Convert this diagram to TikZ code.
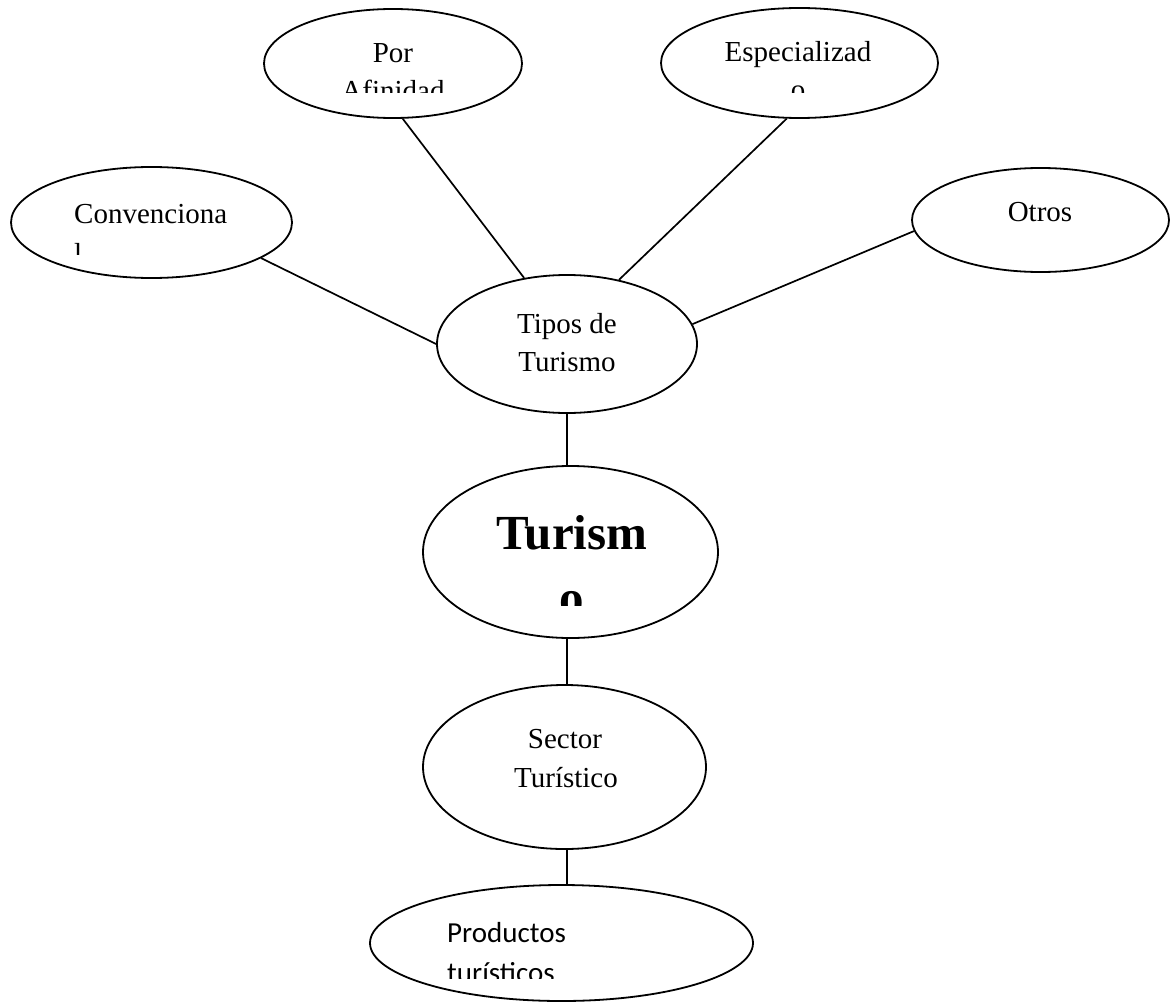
\documentclass[tikz,border=0pt]{standalone}
\usepackage{fontspec}
\setmainfont{Liberation Serif}
\newfontfamily\bodysans{Carlito}
\usetikzlibrary{shapes.geometric}
\begin{document}
\begin{tikzpicture}[x=1pt,y=-1pt,
  bubble/.style={draw, ellipse, line width=1.8pt, inner sep=0pt, fill=white},
  link/.style={line width=1.7pt},
  txt/.style={font=\fontsize{29}{38}\selectfont, inner sep=0pt},
  bigtxt/.style={font=\fontsize{49}{60}\selectfont\bfseries, inner sep=0pt},
  sanstxt/.style={font=\fontsize{29}{38}\selectfont\bodysans, inner sep=0pt}]
\useasboundingbox (0,0) rectangle (1174,1003);

% ellipses
\node[bubble, minimum width=258pt, minimum height=109pt] (por)     at (393,63.5)  {};
\node[bubble, minimum width=277pt, minimum height=110pt] (esp)     at (799.5,63)  {};
\node[bubble, minimum width=281pt, minimum height=111pt] (conv)    at (151.5,222.5) {};
\node[bubble, minimum width=257pt, minimum height=104pt] (otros)   at (1040.5,220) {};
\node[bubble, minimum width=260pt, minimum height=138pt] (tipos)   at (567,344)   {};
\node[bubble, minimum width=295pt, minimum height=172pt] (turismo) at (570.5,552) {};
\node[bubble, minimum width=283pt, minimum height=164pt] (sector)  at (564.5,767) {};
\node[bubble, minimum width=383pt, minimum height=116pt] (prod)    at (561.5,943) {};

% connectors
\draw[link] (conv.-18)   -- (tipos.180);
\draw[link] (por.-80)    -- (tipos.123);
\draw[link] (esp.-103)   -- (tipos.51);
\draw[link] (otros.-175) -- (tipos.9);
\draw[link] (tipos.south) -- (tipos.south |- turismo.north);
\draw[link] (turismo.south -| tipos.south) -- (sector.north -| tipos.south);
\draw[link] (sector.south -| tipos.south) -- (prod.north -| tipos.south);

% labels, each cut off at the bottom of its text frame
\begin{scope}
  \clip (264,0) rectangle (522,93);
  \node[txt, anchor=base] (porA) at (393,63)  {Por};
  \node[txt, anchor=base] (porB) at (393,101) {Afinidad};
\end{scope}
\begin{scope}
  \clip (661,0) rectangle (938,93);
  \node[txt, anchor=base] (espA) at (798,62)  {Especializad};
  \node[txt, anchor=base] (espB) at (798,100) {o};
\end{scope}
\begin{scope}
  \clip (11,160) rectangle (292,254);
  \node[txt, anchor=base west] (convA) at (74,223) {Convenciona};
  \node[txt, anchor=base west] (convB) at (74,263) {l};
\end{scope}
\node[txt, anchor=base] (otrosA) at (1040,221) {Otros};
\node[txt, anchor=base] (tiposA) at (567,333) {Tipos de};
\node[txt, anchor=base] (tiposB) at (567,371) {Turismo};
\begin{scope}
  \clip (423,466) rectangle (718,605);
  \node[bigtxt, anchor=base] (turA) at (572,549) {Turism};
  \node[bigtxt, anchor=base] (turB) at (572,614) {o};
\end{scope}
\node[txt, anchor=base] (secA) at (565,748) {Sector};
\node[txt, anchor=base] (secB) at (566,787) {Turístico};
\begin{scope}
  \clip (370,885) rectangle (753,978);
  \node[sanstxt, anchor=base west] (prodA) at (447,942) {Productos};
  \node[sanstxt, anchor=base west] (prodB) at (447,982) {turísticos};
\end{scope}
\end{tikzpicture}
\end{document}
